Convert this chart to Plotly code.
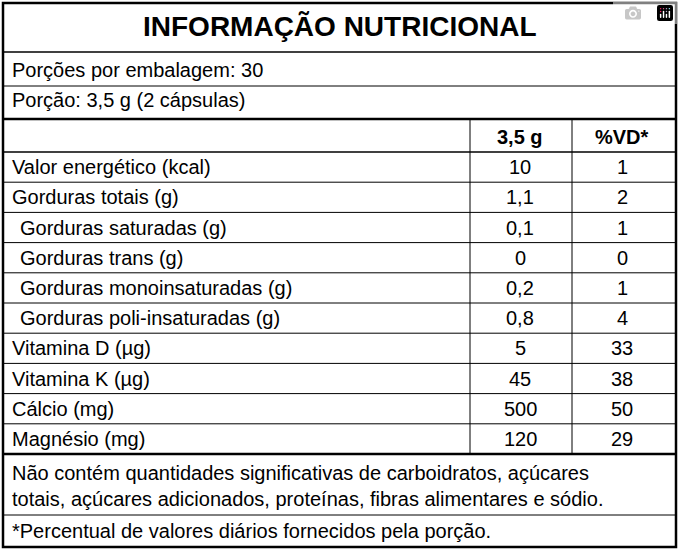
"""tabela nutricional"""
import plotly.graph_objects as go

titulo = "INFORMAÇÃO NUTRICIONAL"
porcoes = "Porções por embalagem: 30"
porcao = "Porção: 3,5 g (2 cápsulas)"
cabecalho = ["3,5 g", "%VD*"]
nutrientes = ["Valor energético (kcal)", "Gorduras totais (g)", " Gorduras saturadas (g)",
              " Gorduras trans (g)", " Gorduras monoinsaturadas (g)",
              " Gorduras poli-insaturadas (g)", "Vitamina D (µg)", "Vitamina K (µg)",
              "Cálcio (mg)", "Magnésio (mg)"]
quantidade = ["10", "1,1", "0,1", "0", "0,2", "0,8", "5", "45", "500", "120"]
vd = ["1", "2", "1", "0", "1", "4", "33", "38", "50", "29"]
rodape1 = "Não contém quantidades significativas de carboidratos, açúcares"
rodape2 = "totais, açúcares adicionados, proteínas, fibras alimentares e sódio."
rodape3 = "*Percentual de valores diários fornecidos pela porção."

FONTE = "Liberation Sans Narrow, Arial Narrow, Liberation Sans"
W, H = 679, 550
fig = go.Figure()
shapes, ann = [], []

def linha(y, w=1, x0=3, x1=676):
    shapes.append(dict(type="line", x0=x0, x1=x1, y0=y, y1=y, line=dict(color="black", width=w)))

def texto(x, y, t, anchor="left", size=20, bold=False):
    ann.append(dict(x=x, y=y, text="<b>%s</b>" % t if bold else t, showarrow=False,
                    xanchor=anchor, yanchor="middle", font=dict(family=FONTE, size=size, color="black")))

shapes.append(dict(type="rect", x0=3, x1=676, y0=3, y1=547, line=dict(color="black", width=2.5)))
texto(W / 2, 26, titulo, "center", 28, True)
linha(52, 1.5)
texto(10, 70, porcoes)
linha(86, 1)
texto(10, 100, porcao)
linha(119, 2.5)
texto(520, 137, cabecalho[0], "center", 20, True)
texto(622, 137, cabecalho[1], "center", 20, True)
linha(152, 1.5)
y0, dy = 152, 30.2
for i, n in enumerate(nutrientes):
    yc = y0 + dy * (i + 0.5)
    texto(10 if not n.startswith(" ") else 18, yc, n.strip())
    texto(520, yc, quantidade[i], "center")
    texto(622, yc, vd[i], "center")
    if i < len(nutrientes) - 1:
        linha(y0 + dy * (i + 1), 1)
yb = y0 + dy * len(nutrientes)
linha(yb, 2.5)
for xv in (470, 572):
    shapes.append(dict(type="line", x0=xv, x1=xv, y0=119, y1=yb, line=dict(color="black", width=1)))
texto(10, 473, rodape1)
texto(10, 499, rodape2)
linha(515, 1)
texto(10, 531, rodape3)

fig.update_layout(width=W, height=H, margin=dict(l=0, r=0, t=0, b=0),
                  paper_bgcolor="white", plot_bgcolor="white", shapes=shapes, annotations=ann,
                  xaxis=dict(range=[0, W], visible=False, fixedrange=True),
                  yaxis=dict(range=[H, 0], visible=False, fixedrange=True), showlegend=False)
fig.write_html("out.html", post_script="document.body.style.margin='0';")
